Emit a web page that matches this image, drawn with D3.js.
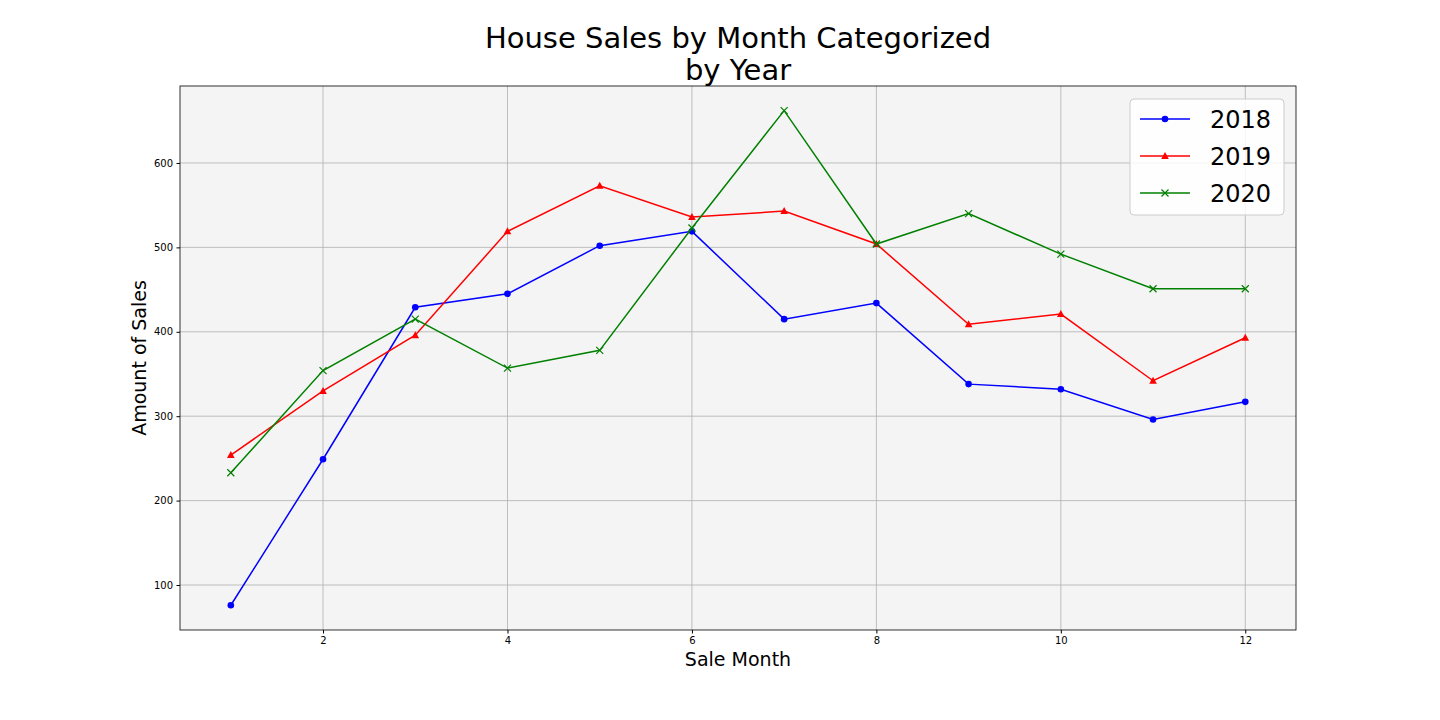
<!DOCTYPE html>
<html><head><meta charset="utf-8">
<script src="https://cdn.jsdelivr.net/npm/d3@7"></script>
<style>body{margin:0;background:#fff;font-family:"DejaVu Sans",sans-serif}</style>
</head><body><svg id="c" width="1440" height="720"></svg>
<script>
const months=[1,2,3,4,5,6,7,8,9,10,11,12];
const s2018=[76,249,429,445,502,519,415,434,338,332,296,317];
const s2019=[254,330,396,519,573,536,543,504,409,421,342,393];
const s2020=[233,354,415,357,378,523,662,504,540,492,451,451];
const xTicks=[2,4,6,8,10,12];
const yTicks=[100,200,300,400,500,600];
const series=[{name:"2018",v:s2018,c:"blue",m:"circle"},{name:"2019",v:s2019,c:"red",m:"tri"},{name:"2020",v:s2020,c:"green",m:"x"}];
const svg=d3.select("#c");
const L=180,R=1296,T=86,B=630;
const x=d3.scaleLinear().domain([0.449,12.55]).range([L,R]);
const y=d3.scaleLinear().domain([46.7,691.2]).range([B,T]);
svg.append("rect").attr("x",L).attr("y",T).attr("width",R-L).attr("height",B-T).attr("fill","#f4f4f4");
svg.append("g").selectAll("line").data(xTicks).join("line").attr("x1",d=>x(d)).attr("x2",d=>x(d)).attr("y1",T).attr("y2",B).attr("stroke","#b0b0b0").attr("stroke-width",0.8);
svg.append("g").selectAll("line").data(yTicks).join("line").attr("y1",d=>y(d)).attr("y2",d=>y(d)).attr("x1",L).attr("x2",R).attr("stroke","#b0b0b0").attr("stroke-width",0.8);
const xa=svg.append("g").attr("transform",`translate(0,${B})`).call(d3.axisBottom(x).tickValues(xTicks).tickSize(3.5).tickPadding(3.5));
const ya=svg.append("g").attr("transform",`translate(${L},0)`).call(d3.axisLeft(y).tickValues(yTicks).tickSize(3.5).tickPadding(3.5));
[xa,ya].forEach(a=>{a.select(".domain").remove();a.selectAll("text").attr("font-size",10).attr("fill","#000").attr("font-family","DejaVu Sans");a.selectAll("line").attr("stroke","#000");});
svg.append("rect").attr("x",L).attr("y",T).attr("width",R-L).attr("height",B-T).attr("fill","none").attr("stroke","#000").attr("stroke-width",0.8);
function marker(g,m,c,cx,cy,s){
 if(m==="circle")g.append("circle").attr("cx",cx).attr("cy",cy).attr("r",3.3).attr("fill",c);
 else if(m==="tri")g.append("path").attr("d",`M${cx},${cy-4}L${cx+3.8},${cy+3}L${cx-3.8},${cy+3}Z`).attr("fill",c);
 else g.append("path").attr("d",`M${cx-3.5},${cy-3.5}L${cx+3.5},${cy+3.5}M${cx-3.5},${cy+3.5}L${cx+3.5},${cy-3.5}`).attr("stroke",c).attr("stroke-width",1.2);
}
const line=d3.line().x((d,i)=>x(months[i])).y(d=>y(d));
series.forEach(s=>{
 svg.append("path").attr("d",line(s.v)).attr("fill","none").attr("stroke",s.c).attr("stroke-width",1.5);
 const g=svg.append("g");
 s.v.forEach((v,i)=>marker(g,s.m,s.c,x(months[i]),y(v)));
});
svg.append("text").attr("x",738).attr("y",48).attr("text-anchor","middle").attr("font-size",29).text("House Sales by Month Categorized");
svg.append("text").attr("x",738).attr("y",80).attr("text-anchor","middle").attr("font-size",29).text("by Year");
svg.append("text").attr("x",738).attr("y",666).attr("text-anchor","middle").attr("font-size",19).text("Sale Month");
svg.append("text").attr("transform","translate(146,358) rotate(-90)").attr("text-anchor","middle").attr("font-size",19).text("Amount of Sales");
const lg=svg.append("g");
lg.append("rect").attr("x",1130).attr("y",99).attr("width",154).attr("height",116).attr("rx",4).attr("fill","#fff").attr("fill-opacity",0.85).attr("stroke","#ccc");
series.forEach((s,i)=>{
 const cy=119+i*37;
 lg.append("line").attr("x1",1140).attr("x2",1190).attr("y1",cy).attr("y2",cy).attr("stroke",s.c).attr("stroke-width",1.5);
 marker(lg,s.m,s.c,1165,cy);
 lg.append("text").attr("x",1210).attr("y",cy+9).attr("font-size",24).text(s.name);
});
</script></body></html>
